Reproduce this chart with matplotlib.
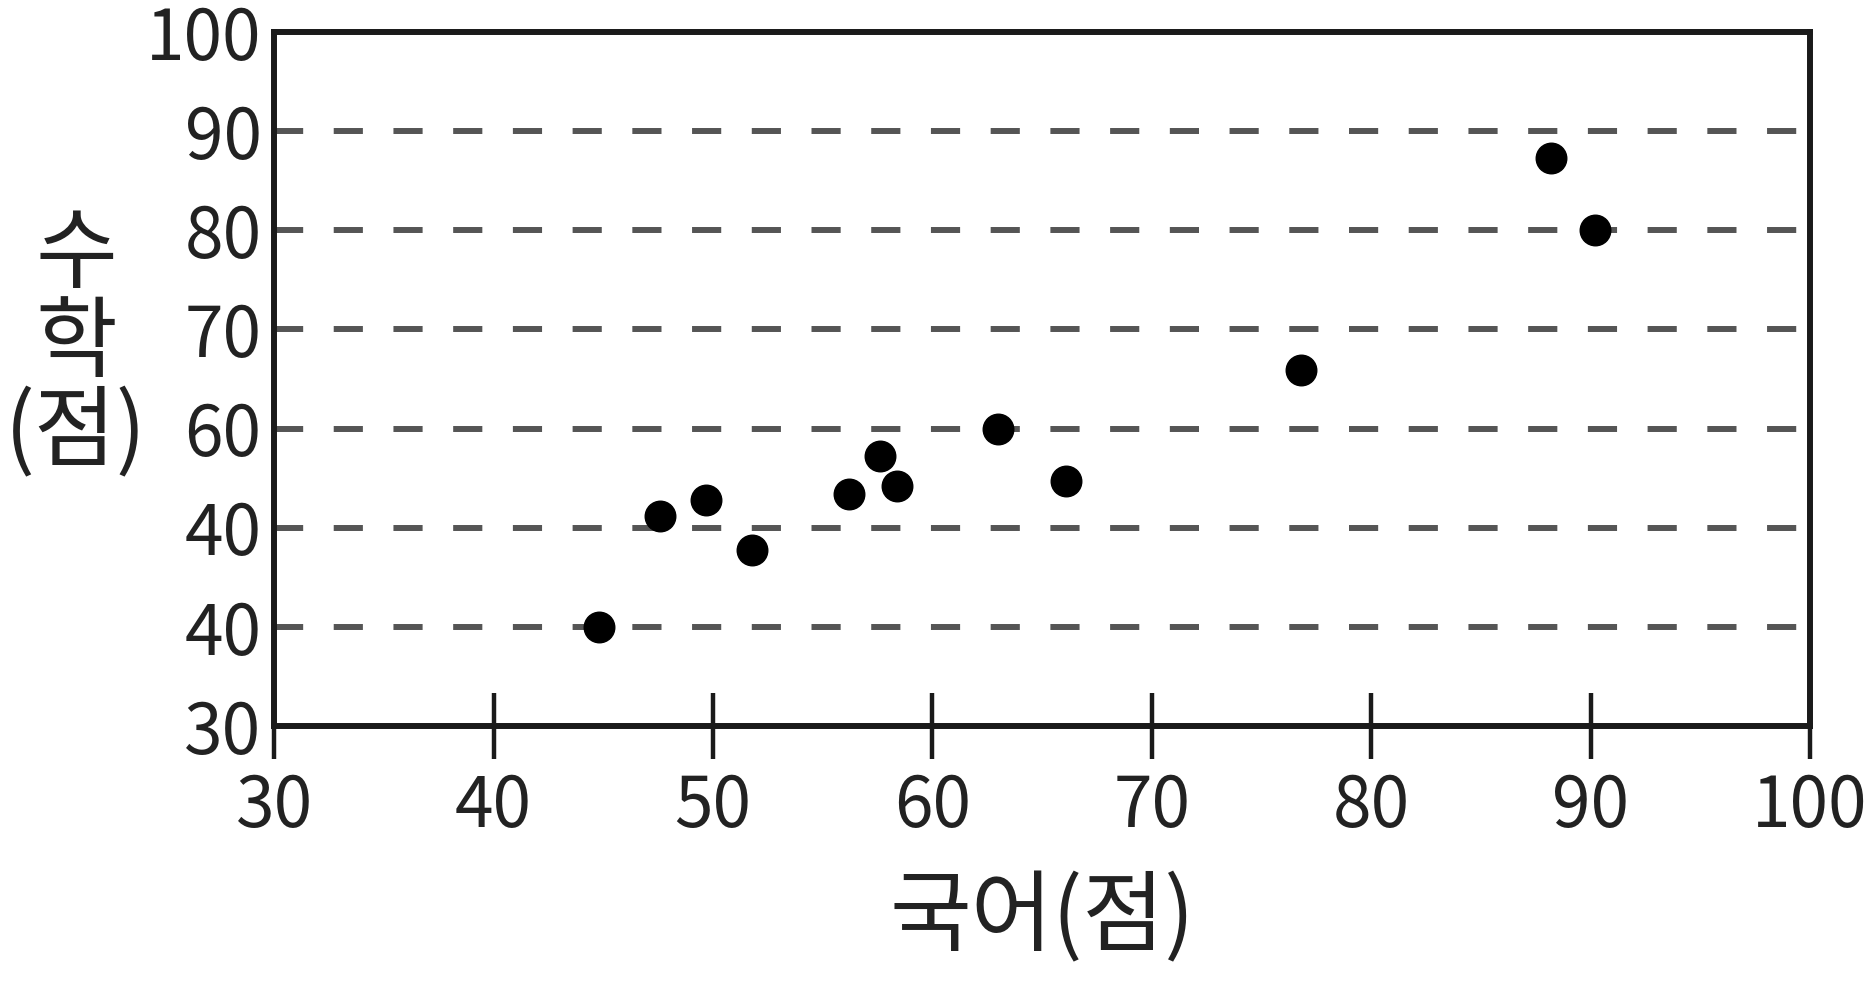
import matplotlib
matplotlib.use("Agg")
import matplotlib.pyplot as plt

# scores
korean_scores = [44.8, 47.6, 49.7, 51.8, 56.2, 57.6, 58.4, 63.0, 66.1, 76.8, 88.2, 90.2]
math_scores = [40.0, 51.2, 52.8, 47.8, 53.4, 57.2, 54.2, 60.0, 54.7, 65.9, 87.3, 80.0]

x_ticks = [30, 40, 50, 60, 70, 80, 90, 100]
y_ticks = [30, 40, 50, 60, 70, 80, 90, 100]
# the original image labels 50 as "40"; keep its text as printed
y_tick_labels = ["30", "40", "40", "60", "70", "80", "90", "100"]
grid_levels = [40, 50, 60, 70, 80, 90]

x_label = "국어(점)"
y_label = "수\n학\n(점)"

plt.rcParams['font.family'] = ['Noto Sans CJK KR', 'DejaVu Sans']
plt.rcParams['lines.scale_dashes'] = False

fig = plt.figure(figsize=(18.67, 9.82), dpi=100)
ax = fig.add_axes([0.1468, 0.2607, 0.8227, 0.7067])

# dashed horizontal guide lines
for level in grid_levels:
    ax.axhline(level, color='#555555', linewidth=4.3, dashes=(21, 22), zorder=1)

ax.plot(korean_scores, math_scores, 'o', color='black', markersize=22, zorder=3)

ax.set_xlim(30, 100)
ax.set_ylim(30, 100)
ax.set_xticks(x_ticks)
ax.set_xticklabels([str(t) for t in x_ticks])
ax.set_yticks(y_ticks)
ax.set_yticklabels(y_tick_labels)

for side in ['top', 'bottom', 'left', 'right']:
    ax.spines[side].set_linewidth(4.3)
    ax.spines[side].set_color('#1a1a1a')
    ax.spines[side].set_zorder(4)

ax.tick_params(axis='x', direction='inout', length=48, width=3.2, color='#1a1a1a',
               labelsize=50, pad=9, labelcolor='#222222')
ax.tick_params(axis='y', length=0, labelsize=50, pad=9, labelcolor='#222222')

ax.set_xlabel(x_label, fontsize=64, color='#222222', labelpad=21)
fig.text(76 / 1867, 1 - 345 / 982, y_label, fontsize=64, color='#222222',
         ha='center', va='center', multialignment='center', linespacing=0.95)

fig.savefig("out.png", dpi=100)
